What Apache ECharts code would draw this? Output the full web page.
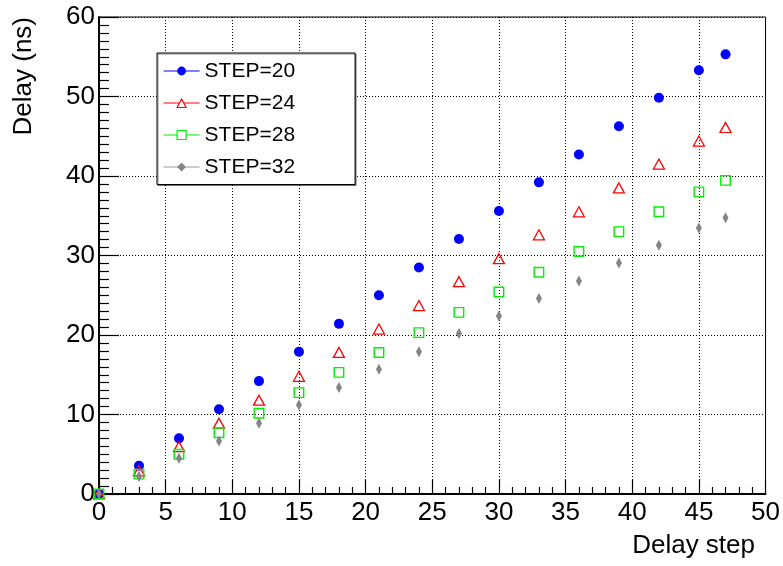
<!DOCTYPE html>
<html>
<head>
<meta charset="utf-8">
<script src="https://cdn.jsdelivr.net/npm/echarts@6/dist/echarts.min.js"></script>
<style>
  html, body { margin: 0; padding: 0; background: #fff; }
  #chart { width: 783px; height: 566px; }
</style>
</head>
<body>
<div id="chart"></div>
<script>
// Delay measured at each delay step, for four STEP settings
const delaySteps = [0, 3, 6, 9, 12, 15, 18, 21, 24, 27, 30, 33, 36, 39, 42, 45, 47];
const step20 = [0, 3.56, 7.0, 10.65, 14.2, 17.9, 21.4, 25.0, 28.5, 32.08, 35.6, 39.2, 42.7, 46.25, 49.85, 53.3, 55.3];
const step24 = [0, 2.9, 5.95, 8.9, 11.8, 14.8, 17.8, 20.75, 23.7, 26.7, 29.6, 32.6, 35.5, 38.5, 41.5, 44.4, 46.1];
const step28 = [0, 2.5, 5.0, 7.7, 10.15, 12.75, 15.3, 17.8, 20.3, 22.85, 25.4, 27.9, 30.5, 33.0, 35.5, 38.0, 39.45];
const step32 = [0, 2.2, 4.5, 6.67, 8.9, 11.2, 13.4, 15.7, 17.9, 20.2, 22.4, 24.6, 26.8, 29.05, 31.3, 33.45, 34.75];
const seriesNames = ['STEP=20', 'STEP=24', 'STEP=28', 'STEP=32'];
const xTicks = { min: 0, max: 50, interval: 5 };
const yTicks = { min: 0, max: 60, interval: 10 };

const FONT = 'Liberation Sans, Arial, Helvetica, sans-serif';

function pairs(values) {
  return delaySteps.map((x, i) => [x, values[i]]);
}

// One marker style per STEP setting; "line" is the colour of the legend stroke
const styles = [
  { line: '#0000ff', symbol: 'circle', size: 10, item: { color: '#0000ff' } },
  { line: '#ff0000', symbol: 'triangle', size: [11, 10], item: { color: 'rgba(255,255,255,0)', borderColor: '#ff0000', borderWidth: 1.3 } },
  { line: '#00f000', symbol: 'rect', size: [9.5, 9.5], item: { color: 'rgba(255,255,255,0)', borderColor: '#00f000', borderWidth: 1.4 } },
  { line: '#999999', symbol: 'diamond', size: [6, 11], item: { color: '#858585' } }
];
const values = [step20, step24, step28, step32];

// Legend icons for the open markers: a stroke with the hollow marker in its middle
// (the leading "M0 0 M36 11" fixes the icon box to 36 x 11)
const openTriangleIcon = 'path://M0 0 M36 11 M0 5.5 L15.5 5.5 M20.5 5.5 L36 5.5 M18 1.5 L22.5 10 L13.5 10 Z';
const openSquareIcon = 'path://M0 0 M36 11 M0 5.5 L13.5 5.5 M22.5 5.5 L36 5.5 M13.5 1 L22.5 1 L22.5 10 L13.5 10 Z';

// Markers only: the connecting line is hidden in the plot and shown in the legend
const series = values.map((v, i) => ({
  name: seriesNames[i],
  type: 'line',
  data: pairs(v),
  color: styles[i].line,
  symbol: styles[i].symbol,
  symbolSize: styles[i].size,
  showSymbol: true,
  showAllSymbol: true,
  clip: false,
  itemStyle: styles[i].item,
  lineStyle: { color: styles[i].line, width: 0, opacity: 0 },
  emphasis: { disabled: true },
  z: 3 + i
}));

const chart = echarts.init(document.getElementById('chart'), null, { renderer: 'canvas' });

chart.setOption({
  animation: false,
  backgroundColor: '#fff',
  grid: {
    left: 99, top: 17, right: 17, bottom: 72,
    show: true, borderColor: '#000', borderWidth: 1, backgroundColor: 'rgba(0,0,0,0)'
  },
  xAxis: {
    type: 'value',
    min: xTicks.min, max: xTicks.max, interval: xTicks.interval,
    axisLine: { show: true, onZero: false, lineStyle: { color: '#000', width: 2 } },
    axisTick: { show: true, inside: true, length: 14, lineStyle: { color: '#000', width: 1.2 } },
    minorTick: { show: true, splitNumber: 5, length: 7, lineStyle: { color: '#000', width: 1.2 } },
    axisLabel: { color: '#000', fontFamily: FONT, fontSize: 26, margin: 6 },
    splitLine: { show: true, lineStyle: { color: '#000', width: 1, type: [1, 2] } }
  },
  yAxis: {
    type: 'value',
    min: yTicks.min, max: yTicks.max, interval: yTicks.interval,
    axisLine: { show: true, onZero: false, lineStyle: { color: '#000', width: 2 } },
    axisTick: { show: true, inside: true, length: 20, lineStyle: { color: '#000', width: 1.2 } },
    minorTick: { show: true, splitNumber: 10, length: 10, lineStyle: { color: '#000', width: 1.2 } },
    axisLabel: { color: '#000', fontFamily: FONT, fontSize: 26, margin: 4 },
    splitLine: { show: true, lineStyle: { color: '#000', width: 1, type: [1, 2] } }
  },
  legend: {
    orient: 'vertical',
    left: 157, top: 53,
    padding: [7.5, 60, 7, 6],
    itemWidth: 36, itemHeight: 11, itemGap: 11,
    textStyle: { color: '#000', fontFamily: FONT, fontSize: 21 },
    backgroundColor: '#fff',
    borderColor: '#000', borderWidth: 1,
    shadowColor: 'rgba(0,0,0,0.45)', shadowBlur: 0, shadowOffsetX: 1, shadowOffsetY: 1,
    lineStyle: { width: 1, opacity: 1 },
    selectedMode: false,
    data: [
      { name: seriesNames[0] },
      {
        name: seriesNames[1], icon: openTriangleIcon,
        itemStyle: { color: 'rgba(255,255,255,0)', borderColor: styles[1].line, borderWidth: 1.2, opacity: 1 }
      },
      {
        name: seriesNames[2], icon: openSquareIcon,
        itemStyle: { color: 'rgba(255,255,255,0)', borderColor: styles[2].line, borderWidth: 1.2, opacity: 1 }
      },
      { name: seriesNames[3] }
    ]
  },
  graphic: [
    {
      type: 'text', x: 24, y: 17, rotation: Math.PI / 2,
      style: { text: 'Delay (ns)', font: '26px ' + FONT, fill: '#000', align: 'right', verticalAlign: 'middle' }
    },
    {
      type: 'text', x: 755, y: 546,
      style: { text: 'Delay step', font: '26px ' + FONT, fill: '#000', align: 'right', verticalAlign: 'middle' }
    }
  ],
  series: series
});
</script>
</body>
</html>
